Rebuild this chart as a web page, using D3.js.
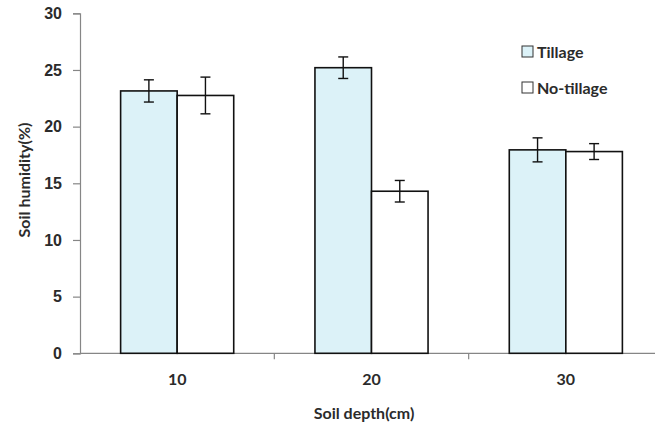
<!DOCTYPE html>
<html>
<head>
<meta charset="utf-8">
<script src="https://cdn.jsdelivr.net/npm/d3@7"></script>
<style>
html,body{margin:0;padding:0;background:#fff;}
svg{display:block;font-family:Lato, "Open Sans", sans-serif;}
</style>
</head>
<body>
<svg id="chart" width="655" height="423"></svg>
<script>
const categories = ["10", "20", "30"];
const seriesNames = ["Tillage", "No-tillage"];
const tillage = [23.15, 25.2, 17.95];
const noTillage = [22.75, 14.3, 17.8];
const tillageErr = [0.98, 0.95, 1.06];
const noTillageErr = [1.62, 0.95, 0.7];
const yTicks = [0, 5, 10, 15, 20, 25, 30];

const colors = {"Tillage": "#dcf2f8", "No-tillage": "#ffffff"};
const textColor = "#2b2b2b";
const axisColor = "#868686";
const fs = "16px";

const svg = d3.select("#chart");
const mLeft = 80, mRight = 663, mTop = 13.3, mBottom = 353.3;

const y = d3.scaleLinear().domain([0, 30]).range([mBottom, mTop]);
const pad = 0.418;
const x0 = d3.scaleBand().domain(categories).range([mLeft, mRight]).paddingInner(pad).paddingOuter(pad / 2);
const x1 = d3.scaleBand().domain(seriesNames).range([0, x0.bandwidth()]);
const xb = d3.scaleLinear().domain([0, categories.length]).range([mLeft, mRight]);

const data = categories.map((c, i) => ({
  cat: c,
  vals: [
    {s: "Tillage", v: tillage[i], e: tillageErr[i]},
    {s: "No-tillage", v: noTillage[i], e: noTillageErr[i]}
  ]
}));

// Y axis
const yAxis = d3.axisLeft(y).tickValues(yTicks).tickSize(7).tickPadding(11).tickFormat(d3.format("d"));
const gy = svg.append("g").attr("transform", `translate(${mLeft},0)`).call(yAxis);
gy.select(".domain").attr("stroke", axisColor).attr("stroke-width", 1.2);
gy.selectAll(".tick line").attr("stroke", axisColor).attr("stroke-width", 1.2);
gy.selectAll(".tick text").attr("fill", textColor).style("font-size", fs).style("font-weight", "bold");

// X axis line and boundary ticks
svg.append("line").attr("x1", mLeft).attr("x2", mRight).attr("y1", y(0)).attr("y2", y(0))
  .attr("stroke", axisColor).attr("stroke-width", 1.2);
svg.selectAll(".xb").data(d3.range(1, categories.length + 1)).enter().append("line")
  .attr("x1", d => xb(d)).attr("x2", d => xb(d))
  .attr("y1", y(0)).attr("y2", y(0) + 6)
  .attr("stroke", axisColor).attr("stroke-width", 1.2);
svg.selectAll(".xl").data(categories).enter().append("text")
  .attr("x", d => x0(d) + x0.bandwidth() / 2).attr("y", 385)
  .attr("text-anchor", "middle").attr("fill", textColor)
  .style("font-size", fs).style("font-weight", "bold").text(d => d);

// Bars
const g = svg.selectAll(".cat").data(data).enter().append("g")
  .attr("transform", d => `translate(${x0(d.cat)},0)`);
g.selectAll("rect").data(d => d.vals).enter().append("rect")
  .attr("x", d => x1(d.s)).attr("width", x1.bandwidth())
  .attr("y", d => y(d.v)).attr("height", d => y(0) - y(d.v))
  .attr("fill", d => colors[d.s]).attr("stroke", "#111").attr("stroke-width", 1.6);

// Error bars
const eb = g.selectAll(".err").data(d => d.vals).enter().append("g");
const cap = 5;
eb.append("line").attr("x1", d => x1(d.s) + x1.bandwidth() / 2).attr("x2", d => x1(d.s) + x1.bandwidth() / 2)
  .attr("y1", d => y(d.v + d.e)).attr("y2", d => y(d.v - d.e)).attr("stroke", "#111").attr("stroke-width", 1.4);
eb.append("line").attr("x1", d => x1(d.s) + x1.bandwidth() / 2 - cap).attr("x2", d => x1(d.s) + x1.bandwidth() / 2 + cap)
  .attr("y1", d => y(d.v + d.e)).attr("y2", d => y(d.v + d.e)).attr("stroke", "#111").attr("stroke-width", 1.4);
eb.append("line").attr("x1", d => x1(d.s) + x1.bandwidth() / 2 - cap).attr("x2", d => x1(d.s) + x1.bandwidth() / 2 + cap)
  .attr("y1", d => y(d.v - d.e)).attr("y2", d => y(d.v - d.e)).attr("stroke", "#111").attr("stroke-width", 1.4);

// Axis titles
svg.append("text").attr("x", 364).attr("y", 419).attr("text-anchor", "middle")
  .attr("fill", textColor).style("font-size", fs).style("font-weight", "bold").text("Soil depth(cm)");
svg.append("text").attr("transform", "translate(30,180) rotate(-90)").attr("text-anchor", "middle")
  .attr("fill", textColor).style("font-size", fs).style("font-weight", "bold").text("Soil humidity(%)");

// Legend
const lg = svg.selectAll(".lg").data(seriesNames).enter().append("g")
  .attr("transform", (d, i) => `translate(522,${46 + i * 36})`);
lg.append("rect").attr("width", 11).attr("height", 11).attr("fill", d => colors[d])
  .attr("stroke", "#333").attr("stroke-width", 1);
lg.append("text").attr("x", 15).attr("y", 11.5).attr("fill", textColor)
  .style("font-size", fs).style("font-weight", "bold").text(d => d);
</script>
</body>
</html>
